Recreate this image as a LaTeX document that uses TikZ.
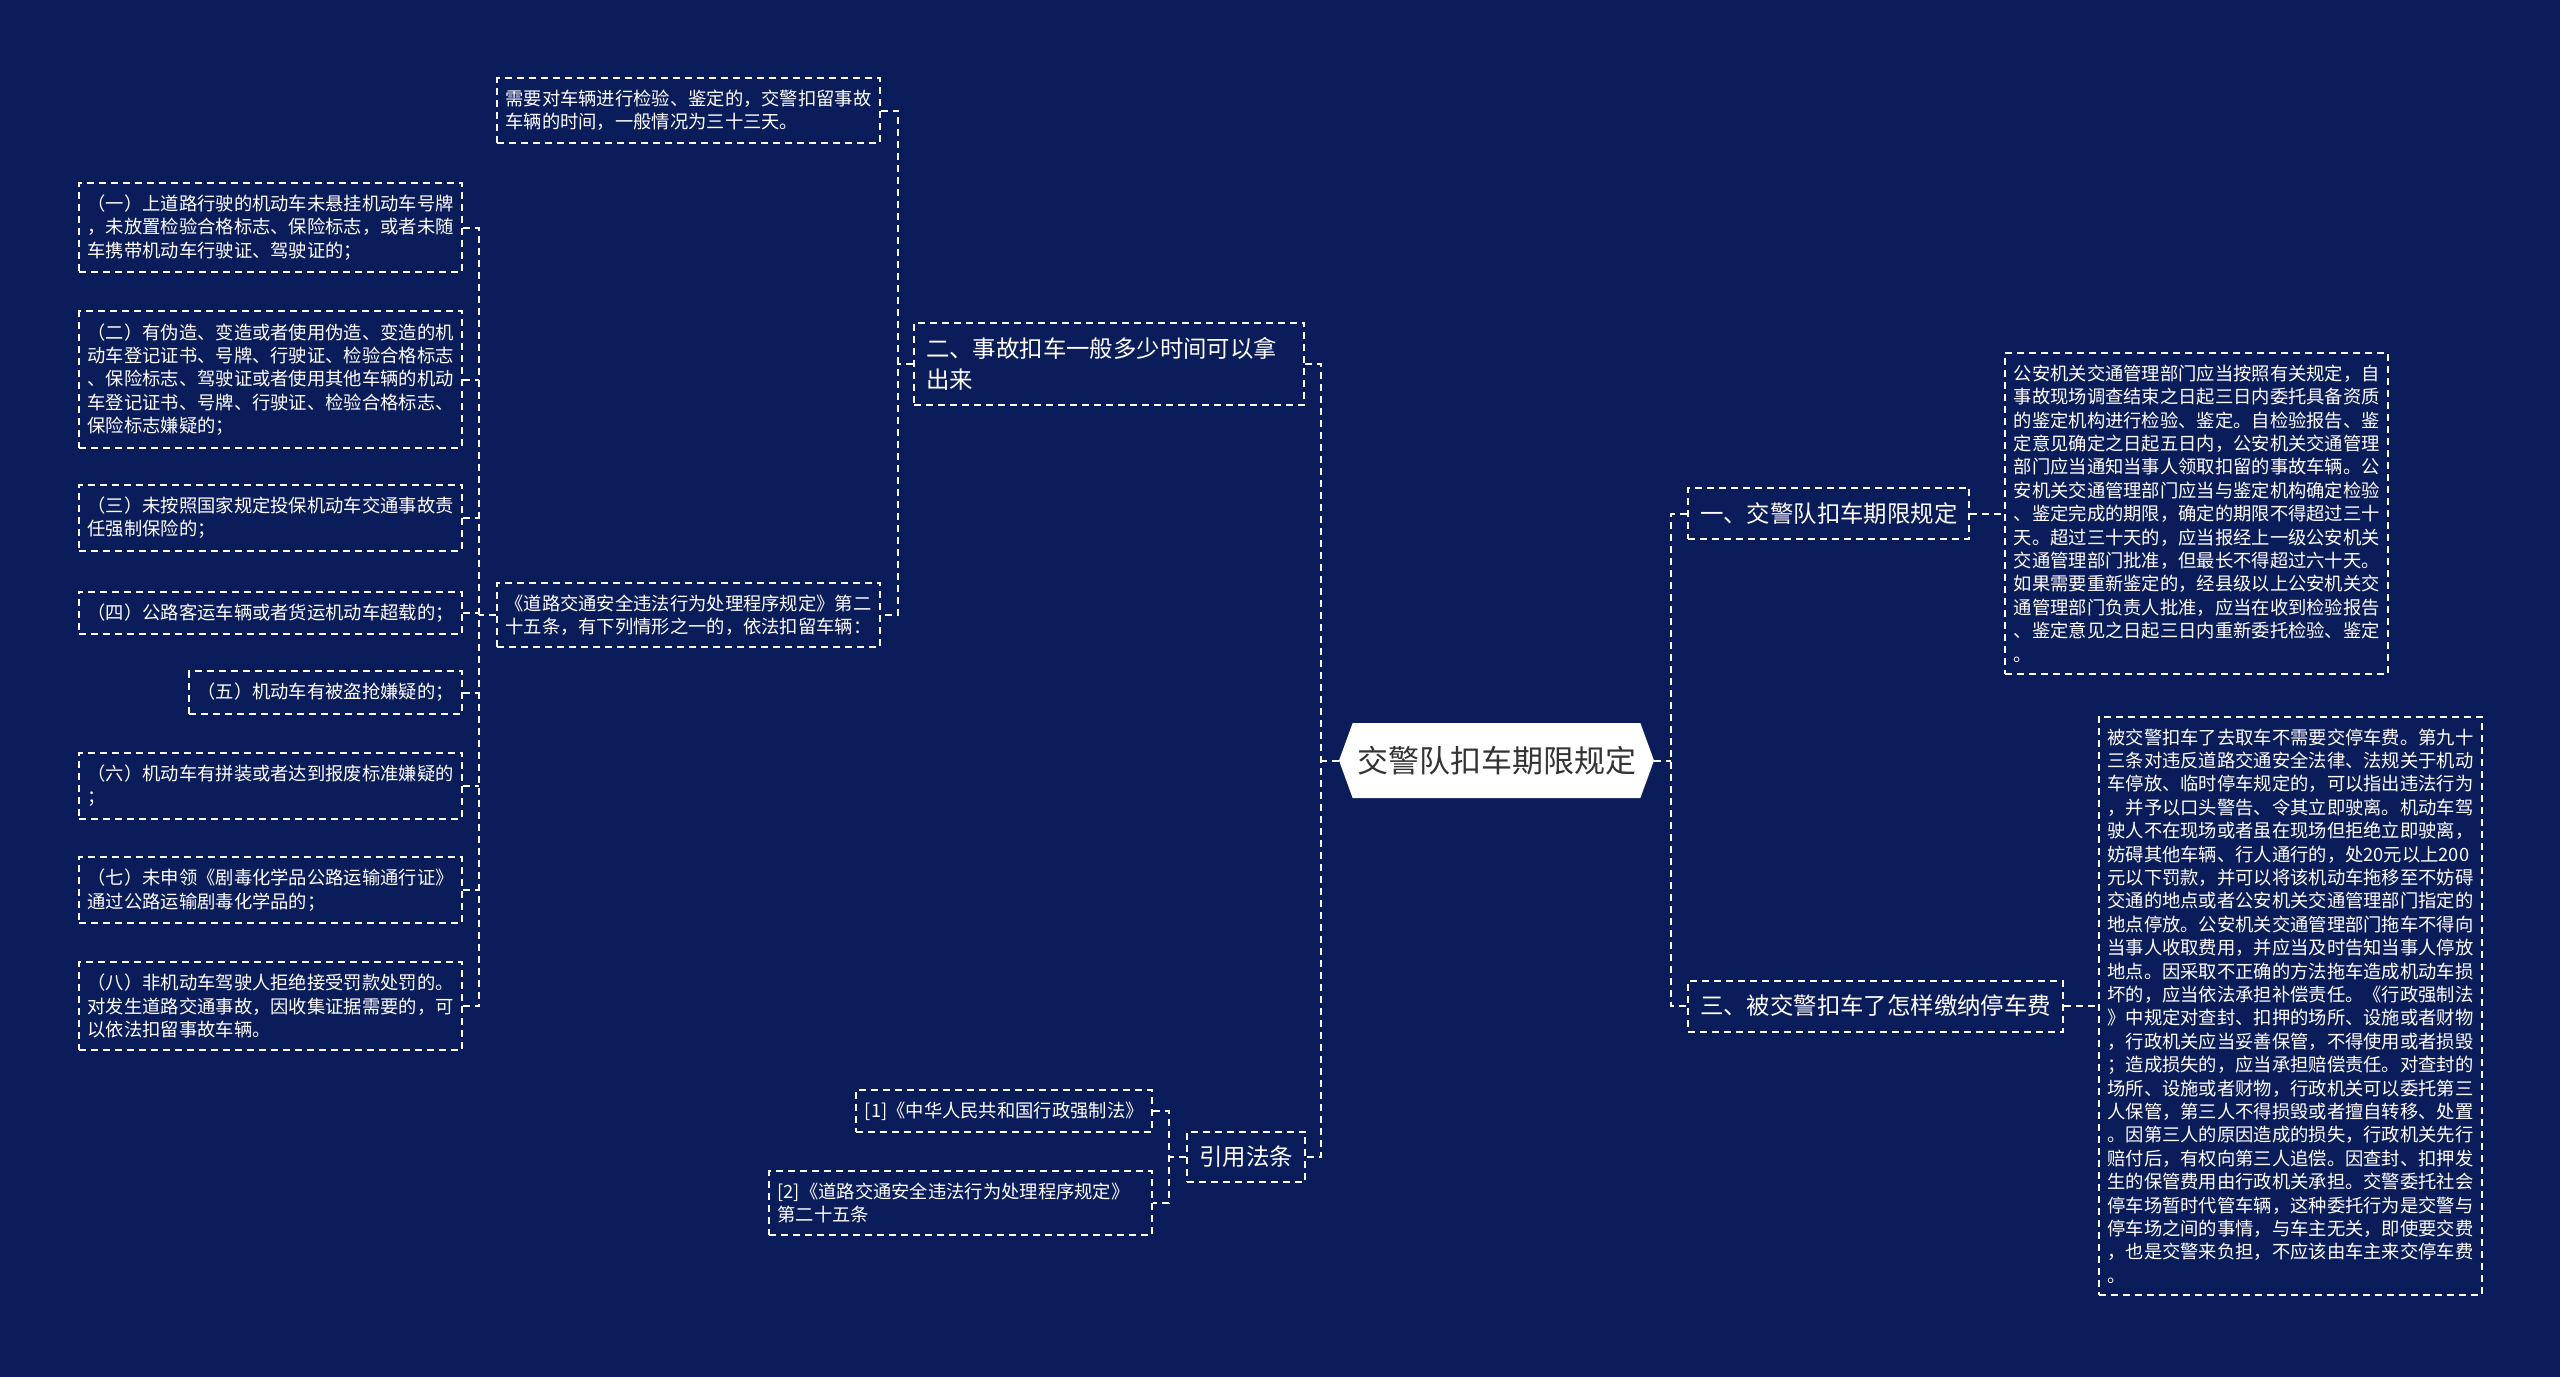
\documentclass[tikz,border=0pt]{standalone}
\usepackage{fontspec}
\setmainfont{Noto Sans CJK SC}
\usepackage{tikz}
\usetikzlibrary{calc,positioning,shapes.symbols}
\definecolor{navybg}{HTML}{0B1C5A}
\definecolor{rootgray}{HTML}{333333}
\newcommand\rootsize{\fontsize{15.5pt}{18pt}\selectfont}
\newcommand\branchsize{\fontsize{11.7pt}{15.8pt}\selectfont}
\newcommand\leafsize{\fontsize{9.15pt}{11.7pt}\selectfont}
\tikzset{
root_topic/.style={signal, signal to=west and east, signal pointer angle=140, fill=white, text=rootgray, font=\rootsize, minimum width=157.5pt, minimum height=37.5pt, inner sep=0pt},
branch_box/.style={draw=white, line width=1pt, dash pattern=on 3.5pt off 2.5pt, text=white, font=\branchsize, align=left, inner xsep=6pt, inner ysep=7.3pt},
leaf_box/.style={draw=white, line width=1pt, dash pattern=on 3.5pt off 2.5pt, text=white, font=\leafsize, align=left, inner xsep=4.2pt, inner ysep=6pt},
link/.style={draw=white, line width=1pt, dash pattern=on 3.5pt off 2.5pt}
}

\begin{document}
\begin{tikzpicture}[x=0.5pt,y=-0.5pt]
    \useasboundingbox (0,0) rectangle (2560,1377);
    \fill[navybg] (0,0) rectangle (2560,1377);
    \node[root_topic] (root) at (1496.5,760.5) {交警队扣车期限规定};

    \node[branch_box, text width=183pt, anchor=east] (branch_2) at (1305,364) {二、事故扣车一般多少时间可以拿\\出来};
    \node[branch_box, anchor=west] (branch_1) at (1687,513.5) {一、交警队扣车期限规定};
    \node[branch_box, anchor=west] (branch_3) at (1687,1006) {三、被交警扣车了怎样缴纳停车费};
    \node[branch_box, anchor=east] (law) at (1306,1157) {引用法条};

    \node[leaf_box, text width=183pt, right=17pt of branch_1] (detail_1) {公安机关交通管理部门应当按照有关规定，自\\事故现场调查结束之日起三日内委托具备资质\\的鉴定机构进行检验、鉴定。自检验报告、鉴\\定意见确定之日起五日内，公安机关交通管理\\部门应当通知当事人领取扣留的事故车辆。公\\安机关交通管理部门应当与鉴定机构确定检验\\、鉴定完成的期限，确定的期限不得超过三十\\天。超过三十天的，应当报经上一级公安机关\\交通管理部门批准，但最长不得超过六十天。\\如果需要重新鉴定的，经县级以上公安机关交\\通管理部门负责人批准，应当在收到检验报告\\、鉴定意见之日起三日内重新委托检验、鉴定\\。};
    \node[leaf_box, text width=183pt, right=17pt of branch_3] (detail_3) {被交警扣车了去取车不需要交停车费。第九十\\三条对违反道路交通安全法律、法规关于机动\\车停放、临时停车规定的，可以指出违法行为\\，并予以口头警告、令其立即驶离。机动车驾\\驶人不在现场或者虽在现场但拒绝立即驶离，\\妨碍其他车辆、行人通行的，处20元以上200\\元以下罚款，并可以将该机动车拖移至不妨碍\\交通的地点或者公安机关交通管理部门指定的\\地点停放。公安机关交通管理部门拖车不得向\\当事人收取费用，并应当及时告知当事人停放\\地点。因采取不正确的方法拖车造成机动车损\\坏的，应当依法承担补偿责任。《行政强制法\\》中规定对查封、扣押的场所、设施或者财物\\，行政机关应当妥善保管，不得使用或者损毁\\；造成损失的，应当承担赔偿责任。对查封的\\场所、设施或者财物，行政机关可以委托第三\\人保管，第三人不得损毁或者擅自转移、处置\\。因第三人的原因造成的损失，行政机关先行\\赔付后，有权向第三人追偿。因查封、扣押发\\生的保管费用由行政机关承担。交警委托社会\\停车场暂时代管车辆，这种委托行为是交警与\\停车场之间的事情，与车主无关，即使要交费\\，也是交警来负担，不应该由车主来交停车费\\。};

    \node[leaf_box, text width=183pt, anchor=west] (period) at (496,110.5) {需要对车辆进行检验、鉴定的，交警扣留事故\\车辆的时间，一般情况为三十三天。};
    \node[leaf_box, text width=183pt, anchor=west] (rule) at (496,615) {《道路交通安全违法行为处理程序规定》第二\\十五条，有下列情形之一的，依法扣留车辆：};

    \node[leaf_box, text width=183pt, anchor=east] (item_1) at (463,227.5) {（一）上道路行驶的机动车未悬挂机动车号牌\\，未放置检验合格标志、保险标志，或者未随\\车携带机动车行驶证、驾驶证的；};
    \node[leaf_box, text width=183pt, anchor=east] (item_2) at (463,379.5) {（二）有伪造、变造或者使用伪造、变造的机\\动车登记证书、号牌、行驶证、检验合格标志\\、保险标志、驾驶证或者使用其他车辆的机动\\车登记证书、号牌、行驶证、检验合格标志、\\保险标志嫌疑的；};
    \node[leaf_box, text width=183pt, anchor=east] (item_3) at (463,517.5) {（三）未按照国家规定投保机动车交通事故责\\任强制保险的；};
    \node[leaf_box, anchor=east] (item_4) at (463,613) {（四）公路客运车辆或者货运机动车超载的；};
    \node[leaf_box, anchor=east] (item_5) at (463,692.5) {（五）机动车有被盗抢嫌疑的；};
    \node[leaf_box, text width=183pt, anchor=east] (item_6) at (463,785.5) {（六）机动车有拼装或者达到报废标准嫌疑的\\；};
    \node[leaf_box, text width=183pt, anchor=east] (item_7) at (463,890) {（七）未申领《剧毒化学品公路运输通行证》\\通过公路运输剧毒化学品的；};
    \node[leaf_box, text width=183pt, anchor=east] (item_8) at (463,1006) {（八）非机动车驾驶人拒绝接受罚款处罚的。\\对发生道路交通事故，因收集证据需要的，可\\以依法扣留事故车辆。};

    \node[leaf_box, anchor=east] (law_1) at (1153,1111) {[1]《中华人民共和国行政强制法》};
    \node[leaf_box, text width=183pt, anchor=east] (law_2) at (1153,1203) {[2]《道路交通安全违法行为处理程序规定》\\第二十五条};

    \coordinate (trunk_l) at (1321,760.5);
    \coordinate (trunk_r) at (1671,760.5);
    \coordinate (trunk_2) at (898,364);
    \coordinate (trunk_i) at (479,615);
    \coordinate (trunk_law) at (1169,1157);

    \draw[link] (root.west) -- (trunk_l);
    \draw[link] (branch_2.east) -| (trunk_l) |- (law.east);
    \draw[link] (root.east) -- (trunk_r);
    \draw[link] (branch_1.west) -| (trunk_r) |- (branch_3.west);
    \draw[link] (branch_1.east) -- (detail_1.west);
    \draw[link] (branch_3.east) -- (detail_3.west);
    \draw[link] (branch_2.west) -- (trunk_2);
    \draw[link] (period.east) -| (trunk_2) |- (rule.east);
    \draw[link] (rule.west) -- (trunk_i);
    \draw[link] (item_1.east) -| (trunk_i) |- (item_8.east);
    \foreach \k in {2,...,7}
        \draw[link] (item_\k.east) -- (item_\k.east -| trunk_i);
    \draw[link] (law.west) -- (trunk_law);
    \draw[link] (law_1.east) -| (trunk_law) |- (law_2.east);
\end{tikzpicture}
\end{document}
